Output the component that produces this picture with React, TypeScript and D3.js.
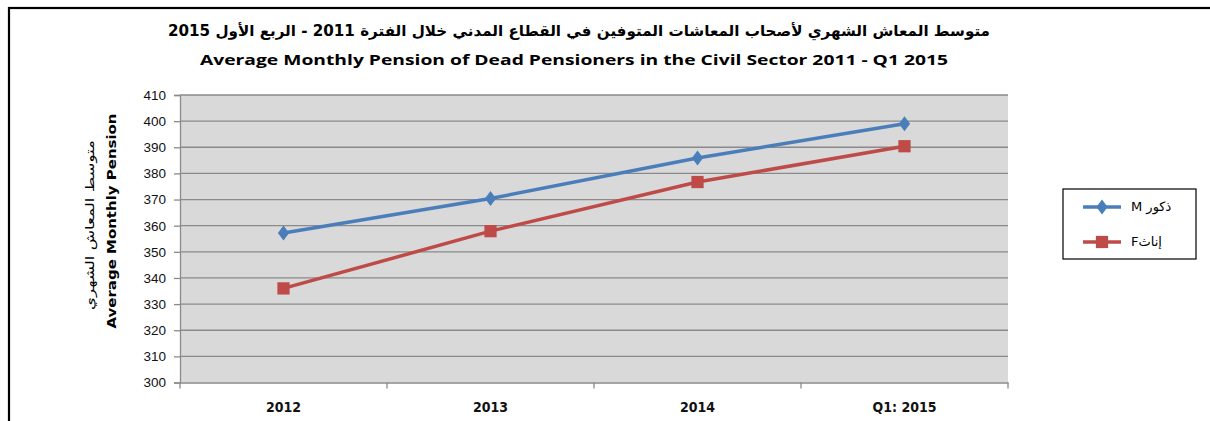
import * as d3 from "d3"
import { useEffect, useRef } from "react"

const categories = ["2012", "2013", "2014", "Q1: 2015"]
const maleValues = [357.2, 370.4, 385.9, 399]
const femaleValues = [336, 357.9, 376.7, 390.4]
const yTicks = [300, 310, 320, 330, 340, 350, 360, 370, 380, 390, 400, 410]
const seriesNames = ["M ذكور", "Fإناث"]
const titleAr =
  "متوسط المعاش الشهري لأصحاب المعاشات المتوفين في القطاع المدني خلال الفترة 2011 - الربع الأول 2015"
const titleEn = "Average Monthly Pension of Dead Pensioners in the Civil Sector 2011  - Q1 2015"
const yTitleAr = "متوسط المعاش الشهري"
const yTitleEn = "Average Monthly Pension"

const W = 1210
const H = 421

const App = () => {
  const ref = useRef<SVGSVGElement>(null)

  useEffect(() => {
    const svg = d3.select(ref.current)
    svg.selectAll("*").remove()

    const plot = { left: 180, right: 1008, top: 95, bottom: 382.5 }

    const xBand = d3
      .scaleBand()
      .domain(categories)
      .range([plot.left, plot.right])
      .padding(0)
    const x = (c: string) => (xBand(c) as number) + xBand.bandwidth() / 2

    const y = d3
      .scaleLinear()
      .domain([300, 410])
      .range([plot.bottom, plot.top])

    // outer frame (runs off right and bottom)
    svg
      .append("rect")
      .attr("x", 9)
      .attr("y", 8)
      .attr("width", W + 20)
      .attr("height", H + 20)
      .attr("fill", "white")
      .attr("stroke", "#000")
      .attr("stroke-width", 2.2)

    // titles
    svg
      .append("text")
      .attr("x", 579)
      .attr("y", 36)
      .attr("text-anchor", "middle")
      .attr("font-family", "DejaVu Sans")
      .attr("font-weight", "bold")
      .attr("font-size", 15)
      .attr("textLength", 822)
      .attr("lengthAdjust", "spacingAndGlyphs")
      .attr("direction", "rtl")
      .attr("fill", "#000")
      .text(titleAr)

    svg
      .append("text")
      .attr("x", 574)
      .attr("y", 65)
      .attr("text-anchor", "middle")
      .attr("font-family", "Open Sans")
      .attr("font-weight", "bold")
      .attr("font-size", 15)
      .attr("textLength", 748)
      .attr("lengthAdjust", "spacingAndGlyphs")
      .attr("fill", "#000")
      .text(titleEn)

    // plot background
    svg
      .append("rect")
      .attr("x", plot.left)
      .attr("y", plot.top)
      .attr("width", plot.right - plot.left)
      .attr("height", plot.bottom - plot.top)
      .attr("fill", "#d9d9d9")

    // gridlines
    svg
      .append("g")
      .selectAll("line")
      .data(yTicks.filter((t) => t > 300))
      .join("line")
      .attr("x1", plot.left)
      .attr("x2", plot.right)
      .attr("y1", (d) => y(d))
      .attr("y2", (d) => y(d))
      .attr("stroke", "#8a8a8a")
      .attr("stroke-width", 1.3)

    // y axis
    const yAxis = svg
      .append("g")
      .attr("transform", `translate(${plot.left},0)`)
      .call(d3.axisLeft(y).tickValues(yTicks).tickSize(6).tickPadding(8))
    yAxis.select(".domain").attr("stroke", "#8a8a8a").attr("stroke-width", 1.3)
    yAxis.selectAll(".tick line").attr("stroke", "#8a8a8a").attr("stroke-width", 1.3)
    yAxis
      .selectAll(".tick text")
      .attr("font-family", "Liberation Sans")
      .attr("font-size", 13.5)
      .attr("fill", "#111")

    // x axis
    const xAxis = svg
      .append("g")
      .attr("transform", `translate(0,${plot.bottom})`)
      .call(d3.axisBottom(xBand).tickSize(0).tickPadding(20))
    xAxis.select(".domain").attr("stroke", "#8a8a8a").attr("stroke-width", 1.3)
    xAxis
      .selectAll(".tick text")
      .attr("font-family", "DejaVu Sans Condensed")
      .attr("font-weight", "bold")
      .attr("font-size", 14)
      .attr("fill", "#111")
    const bounds = categories.map((c) => xBand(c) as number).concat([plot.right])
    xAxis
      .selectAll(".cat-tick")
      .data(bounds)
      .join("line")
      .attr("x1", (d) => d)
      .attr("x2", (d) => d)
      .attr("y1", 0)
      .attr("y2", 6)
      .attr("stroke", "#8a8a8a")
      .attr("stroke-width", 1.3)

    // y axis titles
    svg
      .append("text")
      .attr("transform", "translate(94,225) rotate(-90)")
      .attr("text-anchor", "middle")
      .attr("font-family", "DejaVu Sans")
      .attr("font-size", 12)
      .attr("textLength", 170)
      .attr("lengthAdjust", "spacingAndGlyphs")
      .attr("fill", "#000")
      .text(yTitleAr)
    svg
      .append("text")
      .attr("transform", "translate(116,221) rotate(-90)")
      .attr("text-anchor", "middle")
      .attr("font-family", "DejaVu Sans")
      .attr("font-weight", "bold")
      .attr("font-size", 13)
      .attr("textLength", 215)
      .attr("lengthAdjust", "spacingAndGlyphs")
      .attr("fill", "#000")
      .text(yTitleEn)

    // series
    const series = [
      { name: seriesNames[0], values: maleValues, colour: "#4a7ebb", symbol: d3.symbolDiamond, size: 65, sx: 1.3 },
      { name: seriesNames[1], values: femaleValues, colour: "#be4b48", symbol: d3.symbolSquare, size: 150, sx: 1 },
    ]

    const line = d3
      .line<number>()
      .x((_, i) => x(categories[i]))
      .y((d) => y(d))

    series.forEach((s) => {
      svg
        .append("path")
        .datum(s.values)
        .attr("fill", "none")
        .attr("stroke", s.colour)
        .attr("stroke-width", 3.5)
        .attr("d", line)
      svg
        .append("g")
        .selectAll("path")
        .data(s.values)
        .join("path")
        .attr("transform", (d, i) => `translate(${x(categories[i])},${y(d)}) scale(${s.sx},1)`)
        .attr("d", d3.symbol(s.symbol, s.size))
        .attr("fill", s.colour)
    })

    // legend
    const lg = svg.append("g")
    lg.append("rect")
      .attr("x", 1063)
      .attr("y", 189)
      .attr("width", 133)
      .attr("height", 70)
      .attr("fill", "white")
      .attr("stroke", "#000")
      .attr("stroke-width", 1.2)
    series.forEach((s, i) => {
      const ly = 207 + i * 35
      lg.append("line")
        .attr("x1", 1083)
        .attr("x2", 1121)
        .attr("y1", ly)
        .attr("y2", ly)
        .attr("stroke", s.colour)
        .attr("stroke-width", 3.5)
      lg.append("path")
        .attr("transform", `translate(1102,${ly}) scale(${s.sx},1)`)
        .attr("d", d3.symbol(s.symbol, s.size)())
        .attr("fill", s.colour)
      lg.append("text")
        .attr("x", 1131)
        .attr("y", ly + 4)
        .attr("font-family", "DejaVu Sans")
        .attr("font-size", 13)
        .attr("fill", "#000")
        .text(s.name)
    })
  }, [])

  return (
    <svg
      ref={ref}
      width={W}
      height={H}
      style={{ position: "absolute", left: 0, top: 0, background: "white" }}
    />
  )
}

export default App
